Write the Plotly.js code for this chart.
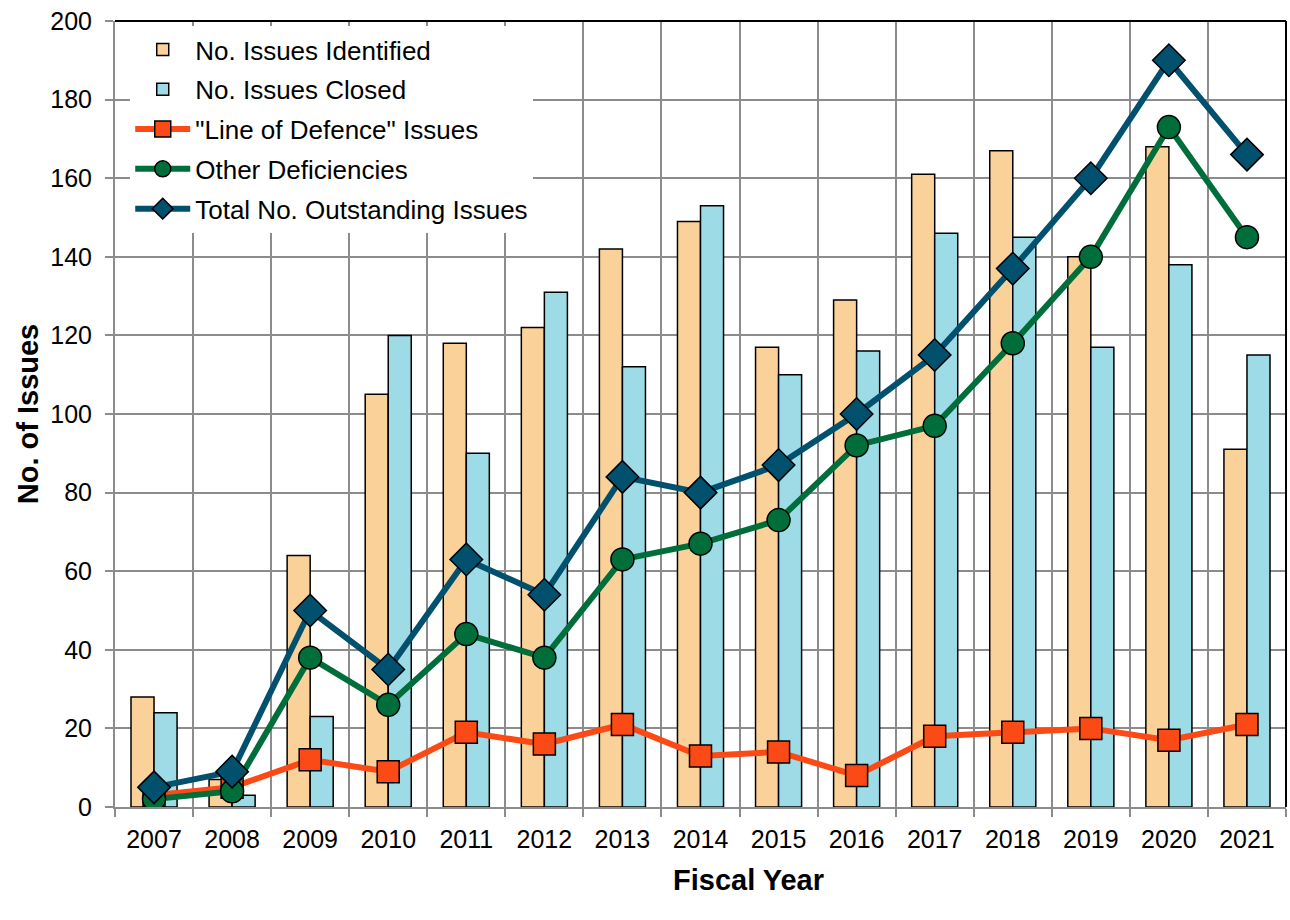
<!DOCTYPE html>
<html><head><meta charset="utf-8">
<script src="https://cdn.plot.ly/plotly-3.0.1.min.js"></script>
<style>html,body{margin:0;padding:0;background:#fff}#chart{width:1290px;height:920px}</style>
</head><body><div id="chart"></div>
<script>
const years = ["2007","2008","2009","2010","2011","2012","2013","2014","2015","2016","2017","2018","2019","2020","2021"];
const identified = [28,7,64,105,118,122,142,149,117,129,161,167,140,168,91];
const closed = [24,3,23,120,90,131,112,153,110,116,146,145,117,138,115];
const lineOfDefence = [3,5,12,9,19,16,21,13,14,8,18,19,20,17,21];
const otherDeficiencies = [2,4,38,26,44,38,63,67,73,92,97,118,140,173,145];
const totalOutstanding = [5,9,50,35,63,54,84,80,87,100,115,137,160,190,166];

const traces = [
  {type:'bar', name:'No. Issues Identified', x:years, y:identified, legendgroup:'a',
   marker:{color:'#FAD299', line:{color:'#000', width:1.5}}},
  {type:'bar', name:'No. Issues Closed', x:years, y:closed, legendgroup:'b',
   marker:{color:'#9DDCE6', line:{color:'#000', width:1.5}}},
  {type:'scatter', mode:'lines+markers', name:'"Line of Defence" Issues', x:years, y:lineOfDefence, legendgroup:'c',
   line:{color:'#FC4A16', width:6},
   marker:{symbol:'square', size:22, color:'#FC4A16', line:{color:'#000', width:1.5}}},
  {type:'scatter', mode:'lines+markers', name:'Other Deficiencies', x:years, y:otherDeficiencies, legendgroup:'d',
   line:{color:'#006E3B', width:6},
   marker:{symbol:'circle', size:23, color:'#006E3B', line:{color:'#000', width:1.5}}},
  {type:'scatter', mode:'lines+markers', name:'Total No. Outstanding Issues', x:years, y:totalOutstanding, legendgroup:'e',
   line:{color:'#00506E', width:6},
   marker:{symbol:'diamond', size:25, color:'#00506E', line:{color:'#000', width:1.5}}}
];

const layout = {
  width:1290, height:920,
  margin:{l:115, r:4, t:21, b:113},
  paper_bgcolor:'#fff', plot_bgcolor:'#fff',
  font:{family:'Liberation Sans, Arial, sans-serif', size:25, color:'#000'},
  barmode:'group', bargap:0.41, bargroupgap:0,
  showlegend:true,
  legend:{x:0.013, y:0.9936, xanchor:'left', yanchor:'top', bgcolor:'#fff',
          font:{size:26}, itemwidth:55, tracegroupgap:3, traceorder:'grouped'},
  xaxis:{type:'category', tickson:'boundaries', range:[-0.5,14.5], autorange:false,
         showgrid:true, gridcolor:'#8c8c8c', gridwidth:1.5,
         ticks:'outside', ticklen:8, tickcolor:'#8c8c8c', tickwidth:1.5,
         showline:true, linecolor:'#8c8c8c', linewidth:2,
         tickfont:{size:25}, ticklabelstandoff:9},
  yaxis:{range:[0,200], autorange:false, dtick:20, showgrid:true, gridcolor:'#8c8c8c', gridwidth:1.5,
         ticks:'outside', ticklen:8, tickcolor:'#8c8c8c', tickwidth:1.5,
         showline:true, linecolor:'#8c8c8c', linewidth:2, zeroline:false,
         tickfont:{size:25}, ticklabelstandoff:8,
         title:{text:'<b>No. of Issues</b>', font:{size:29}, standoff:3}},
  annotations:[
    {text:'<b>Fiscal Year</b>', xref:'paper', yref:'paper', x:0.541, y:-0.093,
     xanchor:'center', yanchor:'middle', showarrow:false, font:{size:29}}
  ],
  shapes:[
    {type:'line', xref:'paper', yref:'paper', x0:0, x1:1, y0:1, y1:1, line:{color:'#000', width:2}},
    {type:'line', xref:'paper', yref:'paper', x0:1, x1:1, y0:0, y1:1, line:{color:'#000', width:2}}
  ]
};
Plotly.newPlot('chart', traces, layout, {displayModeBar:false});
</script></body></html>
